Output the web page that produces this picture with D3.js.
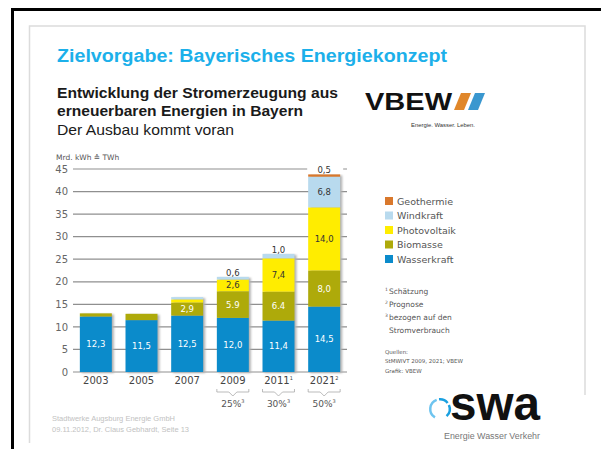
<!DOCTYPE html>
<html>
<head>
<meta charset="utf-8">
<script src="https://cdn.jsdelivr.net/npm/d3@7"></script>
<style>
  body { margin: 0; background: #fff; }
  svg { display: block; }
</style>
</head>
<body>
<div id="slide"></div>
<script>
// data (Mrd. kWh)
var years = ["2003", "2005", "2007", "2009", "2011", "2021"];
var yearSup = ["", "", "", "", "1", "2"];
var shares = ["", "", "", "25%", "30%", "50%"];

var wasserkraft = [12.3, 11.5, 12.5, 12.0, 11.4, 14.5];
var biomasse = [0.7, 1.4, 2.9, 5.9, 6.4, 8.0];
var photovoltaik = [0, 0, 0.7, 2.6, 7.4, 14.0];
var windkraft = [0, 0, 0.5, 0.6, 1.0, 6.8];
var geothermie = [0, 0, 0, 0, 0, 0.5];

var wasserLbl = ["12,3", "11,5", "12,5", "12,0", "11,4", "14,5"];
var bioLbl = ["", "", "2,9", "5.9", "6.4", "8,0"];
var pvLbl = ["", "", "", "2,6", "7,4", "14,0"];
var windLbl = ["", "", "", "0,6", "1,0", "6,8"];
var geoLbl = ["", "", "", "", "", "0,5"];

var yTicks = [0, 5, 10, 15, 20, 25, 30, 35, 40, 45];

var seriesNames = ["Wasserkraft", "Biomasse", "Photovoltaik", "Windkraft", "Geothermie"];
var seriesColors = ["#0b8bcb", "#aeaa0a", "#ffed00", "#b8daee", "#d9782c"];
var seriesLabels = [wasserLbl, bioLbl, pvLbl, windLbl, geoLbl];
var labelColors = ["#fff", "#fff", "#333", "#333", "#333"];

var footnotes = ["Schätzung", "Prognose", "bezogen auf den"];

var WD = 601, HT = 449;
var chartFont = "'DejaVu Sans', sans-serif";
var headFont = "'Liberation Sans', Arial, sans-serif";

var svg = d3.select("#slide").append("svg")
    .attr("width", WD)
    .attr("height", HT);

svg.append("rect").attr("width", WD).attr("height", HT).attr("fill", "#fff");

// slide frames
svg.append("path").attr("d", "M12.5,449V9.5H601").attr("fill", "none")
    .attr("stroke", "#000").attr("stroke-width", 3);
svg.append("path").attr("d", "M29.5,443V26H585V395").attr("fill", "none")
    .attr("stroke", "#dcdcdc").attr("stroke-width", 1.5);

// headings
svg.append("text").attr("x", 57).attr("y", 62)
    .attr("font-family", headFont).attr("font-weight", "bold").attr("font-size", 17.5)
    .attr("fill", "#1cb0ea")
    .attr("textLength", 390).attr("lengthAdjust", "spacingAndGlyphs")
    .text("Zielvorgabe: Bayerisches Energiekonzept");

svg.append("text").attr("x", 57).attr("y", 97.5)
    .attr("font-family", headFont).attr("font-weight", "bold").attr("font-size", 15)
    .attr("fill", "#1a1a1a")
    .attr("textLength", 281).attr("lengthAdjust", "spacingAndGlyphs")
    .text("Entwicklung der Stromerzeugung aus");
svg.append("text").attr("x", 57).attr("y", 116)
    .attr("font-family", headFont).attr("font-weight", "bold").attr("font-size", 15)
    .attr("fill", "#1a1a1a")
    .attr("textLength", 246).attr("lengthAdjust", "spacingAndGlyphs")
    .text("erneuerbaren Energien in Bayern");
svg.append("text").attr("x", 57).attr("y", 135)
    .attr("font-family", headFont).attr("font-size", 15)
    .attr("fill", "#1a1a1a")
    .attr("textLength", 177).attr("lengthAdjust", "spacingAndGlyphs")
    .text("Der Ausbau kommt voran");

// VBEW logo
svg.append("text").attr("x", 365).attr("y", 110)
    .attr("font-family", headFont).attr("font-weight", "bold").attr("font-size", 24)
    .attr("fill", "#111")
    .attr("textLength", 87).attr("lengthAdjust", "spacingAndGlyphs")
    .text("VBEW");
svg.append("path").attr("d", "M461,93H471L464,110H454Z").attr("fill", "#e0872a");
svg.append("path").attr("d", "M475,93H485L478,110H468Z").attr("fill", "#3a97cf");
svg.append("text").attr("x", 411).attr("y", 127)
    .attr("font-family", headFont).attr("font-size", 5.5)
    .attr("fill", "#333")
    .attr("textLength", 64).attr("lengthAdjust", "spacingAndGlyphs")
    .text("Energie. Wasser. Leben.");

// chart
var x = d3.scaleBand().domain(years).range([73, 347]).paddingInner(0.3).paddingOuter(0.15);
var y = d3.scaleLinear().domain([0, 45]).range([372, 169]);

svg.append("text").attr("x", 56).attr("y", 160)
    .attr("font-family", chartFont).attr("font-size", 7.5).attr("fill", "#555")
    .text("Mrd. kWh ≙ TWh");

var grid = svg.append("g");
grid.selectAll("line").data(yTicks).enter().append("line")
    .attr("x1", 73).attr("x2", 347)
    .attr("y1", function(d) { return y(d); })
    .attr("y2", function(d) { return y(d); })
    .attr("stroke", "#8f8f8f").attr("stroke-width", 1.2);

var yAxis = d3.axisLeft(y).tickValues(yTicks).tickSize(0).tickPadding(0);
svg.append("g").attr("transform", "translate(68,0)").call(yAxis)
    .call(function(g) { g.select(".domain").remove(); })
    .selectAll("text")
    .attr("font-family", chartFont).attr("font-size", 10).attr("fill", "#666");

var table = years.map(function(yr, i) {
    return {
        year: yr,
        Wasserkraft: wasserkraft[i],
        Biomasse: biomasse[i],
        Photovoltaik: photovoltaik[i],
        Windkraft: windkraft[i],
        Geothermie: geothermie[i]
    };
});
var stacked = d3.stack().keys(seriesNames)(table);
var totals = table.map(function(d) {
    return d3.sum(seriesNames, function(k) { return d[k]; });
});

// soft shadow behind each bar
var defs = svg.append("defs");
defs.append("filter").attr("id", "blur").append("feGaussianBlur").attr("stdDeviation", 1.2);
svg.append("g").selectAll("rect").data(years).enter().append("rect")
    .attr("x", function(d) { return x(d) + 2; })
    .attr("y", function(d, i) { return y(totals[i]) + 1; })
    .attr("width", x.bandwidth())
    .attr("height", function(d, i) { return y(0) - y(totals[i]); })
    .attr("fill", "#b0b0b0")
    .attr("filter", "url(#blur)");

var layers = svg.append("g").selectAll("g").data(stacked).enter().append("g")
    .attr("fill", function(d, i) { return seriesColors[i]; });
layers.selectAll("rect").data(function(d) { return d; }).enter().append("rect")
    .attr("x", function(d) { return x(d.data.year); })
    .attr("y", function(d) { return y(d[1]); })
    .attr("width", x.bandwidth())
    .attr("height", function(d) { return y(d[0]) - y(d[1]); });

// value labels: inside the segment, or just above the bar for thin top segments
var labelG = svg.append("g").attr("font-family", chartFont).attr("font-size", 8.5)
    .attr("text-anchor", "middle");
stacked.forEach(function(layer, s) {
    layer.forEach(function(seg, i) {
        var txt = seriesLabels[s][i];
        if (!txt) return;
        var h = seg[1] - seg[0];
        var cx = x(years[i]) + x.bandwidth() / 2;
        if (h < 1.5) {
            var top = y(totals[i]);
            labelG.append("rect").attr("x", x(years[i]) - 1).attr("y", top - 9)
                .attr("width", x.bandwidth() + 4).attr("height", 8.5).attr("fill", "#fff");
            labelG.append("text").attr("x", cx).attr("y", top - 1)
                .attr("fill", "#333").text(txt);
        } else {
            labelG.append("text").attr("x", cx).attr("y", y((seg[0] + seg[1]) / 2) + 3)
                .attr("fill", labelColors[s]).text(txt);
        }
    });
});

// year labels with footnote marks
var xl = svg.append("g").attr("font-family", chartFont).attr("font-size", 10)
    .attr("fill", "#444");
years.forEach(function(yr, i) {
    var t = xl.append("text").attr("x", x(yr) + x.bandwidth() / 2).attr("y", 384)
        .attr("text-anchor", "middle");
    t.append("tspan").text(yr);
    if (yearSup[i]) {
        t.append("tspan").attr("font-size", 5).attr("dy", -4).text(yearSup[i]);
    }
});

// share brackets
years.forEach(function(yr, i) {
    if (!shares[i]) return;
    var x0 = x(yr), x1 = x(yr) + x.bandwidth(), cx = (x0 + x1) / 2;
    svg.append("path")
        .attr("d", "M" + x0 + ",389V392H" + (cx - 4) + "L" + cx + ",396L" + (cx + 4) + ",392H" + x1 + "V389")
        .attr("fill", "none").attr("stroke", "#aaa").attr("stroke-width", 0.8);
    var t = svg.append("text").attr("x", cx).attr("y", 407)
        .attr("text-anchor", "middle")
        .attr("font-family", chartFont).attr("font-size", 9).attr("fill", "#555");
    t.append("tspan").text(shares[i]);
    t.append("tspan").attr("font-size", 5).attr("dy", -4).text("3");
});

// legend (top entry first)
var legend = svg.append("g").attr("font-family", chartFont).attr("font-size", 9.5)
    .attr("fill", "#555");
var legendOrder = seriesNames.slice().reverse();
legendOrder.forEach(function(name, i) {
    var ly = 201 + i * 14.5;
    legend.append("rect").attr("x", 385).attr("y", ly - 4).attr("width", 8).attr("height", 8)
        .attr("fill", seriesColors[seriesNames.indexOf(name)]);
    legend.append("text").attr("x", 397).attr("y", ly + 3.5).text(name);
});

// footnotes and sources
var notes = svg.append("g").attr("font-family", chartFont).attr("font-size", 7.5)
    .attr("fill", "#555");
footnotes.forEach(function(f, i) {
    var t = notes.append("text").attr("x", 385).attr("y", 294 + i * 13);
    t.append("tspan").attr("font-size", 4.5).attr("dy", -3).text(i === 0 ? "1" : i === 1 ? "2" : "3");
    t.append("tspan").attr("dy", 3).attr("dx", 1).text(f);
});
notes.append("text").attr("x", 389).attr("y", 333).text("Stromverbrauch");

var src = svg.append("g").attr("font-family", chartFont).attr("font-size", 5.5)
    .attr("fill", "#555");
src.append("text").attr("x", 385).attr("y", 354).text("Quellen:");
src.append("text").attr("x", 385).attr("y", 363).text("StMWIVT 2009, 2021; VBEW");
src.append("text").attr("x", 385).attr("y", 373).text("Grafik: VBEW");

// footer
var foot = svg.append("g").attr("font-family", headFont).attr("font-size", 7.5)
    .attr("fill", "#c2c2c2");
foot.append("text").attr("x", 52).attr("y", 421).text("Stadtwerke Augsburg Energie GmbH");
foot.append("text").attr("x", 52).attr("y", 432).text("09.11.2012, Dr. Claus Gebhardt, Seite 13");

// swa logo
var arc = d3.arc().innerRadius(8.5).outerRadius(11);
var logo = svg.append("g").attr("transform", "translate(440,409)");
logo.append("path").attr("d", arc({ startAngle: -2.6, endAngle: -0.35 })).attr("fill", "#6ec4ef");
logo.append("path").attr("d", arc({ startAngle: -0.1, endAngle: 0.9 })).attr("fill", "#1aa0e0");
logo.append("path").attr("d", arc({ startAngle: 1.15, endAngle: 2.4 })).attr("fill", "#1aa0e0");
logo.append("path").attr("d", "M437,390L440,397L443,390Z").attr("fill", "#6ec4ef");
svg.append("text").attr("x", 450).attr("y", 420)
    .attr("font-family", headFont).attr("font-weight", "bold").attr("font-size", 48)
    .attr("fill", "#111")
    .attr("textLength", 90).attr("lengthAdjust", "spacingAndGlyphs")
    .text("swa");
svg.append("text").attr("x", 444).attr("y", 439)
    .attr("font-family", headFont).attr("font-size", 8.5)
    .attr("fill", "#777")
    .attr("textLength", 96).attr("lengthAdjust", "spacingAndGlyphs")
    .text("Energie Wasser Verkehr");
</script>
</body>
</html>
